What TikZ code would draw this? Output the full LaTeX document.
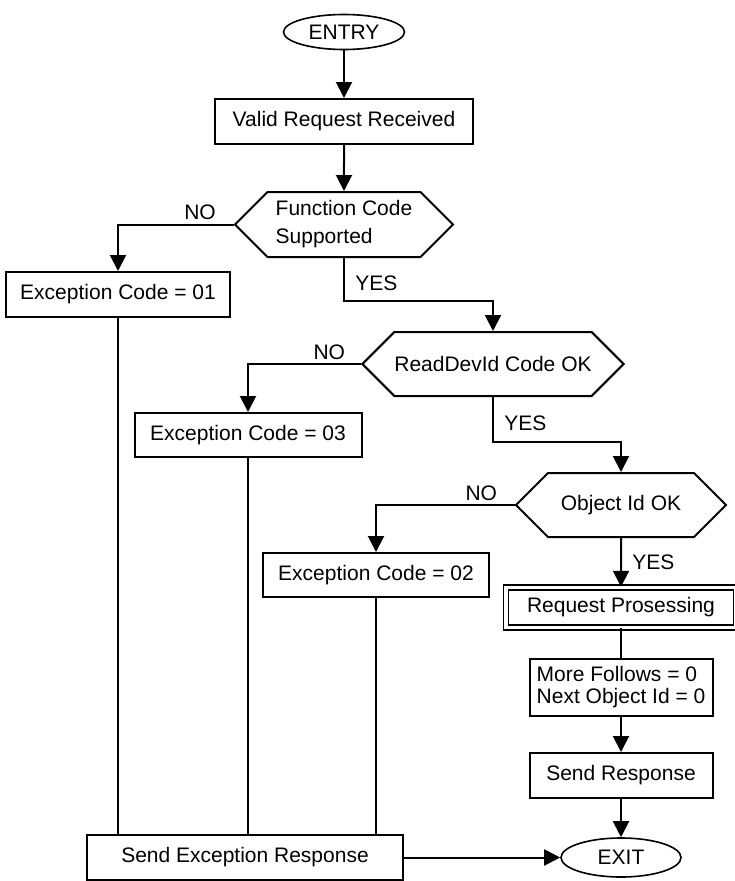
\documentclass[tikz,border=0pt]{standalone}
\usepackage{fontspec}
\setmainfont{Liberation Sans}
\usetikzlibrary{arrows.meta, shapes.geometric, shapes.symbols}

\begin{document}
\begin{tikzpicture}[x=1pt, y=-1pt,
        every node/.style={font=\fontsize{21}{22}\selectfont},
        procbox/.style={rectangle, draw, line width=2pt, inner sep=0pt},
        decide/.style={signal, signal to=west and east, signal pointer angle=90, draw, line width=2pt, inner sep=0pt},
        terminal/.style={ellipse, draw, line width=1.6pt, inner sep=0pt},
        flow/.style={line width=2pt},
        arr/.style={flow, -{Triangle[width=16pt,length=16pt]}}]
        \useasboundingbox (0,0) rectangle (735,881);

        \node[terminal, minimum width=121pt, minimum height=35pt] (entry) at (344,32) {ENTRY};
        \node[procbox, minimum width=258pt, minimum height=45pt] (valid) at (344,121.5) {Valid Request Received};
        \node[decide, minimum width=218pt, minimum height=65pt, align=left] (fc) at (344,224.5) {Function Code\\[6pt]Supported};
        \node[procbox, minimum width=224pt, minimum height=45pt] (ex01) at (118,294.5) {Exception Code = 01};
        \node[decide, minimum width=254pt, minimum height=64pt] (rd) at (493,364) {ReadDevId Code OK};
        \node[procbox, minimum width=227pt, minimum height=44pt] (ex03) at (248,435) {Exception Code = 03};
        \node[decide, minimum width=210pt, minimum height=64pt] (oi) at (621,505) {Object Id OK};
        \node[procbox, minimum width=226pt, minimum height=44pt] (ex02) at (376,575) {Exception Code = 02};
        \node[procbox, double, double distance=3.2pt, line width=1.5pt, minimum width=230pt, minimum height=40pt] (req) at (621,607.5) {Request Prosessing};
        \node[procbox, minimum width=183pt, minimum height=57pt, align=left] (more) at (621,687.5) {More Follows = 0\\Next Object Id = 0};
        \node[procbox, minimum width=183pt, minimum height=45pt] (sendr) at (621,775.5) {Send Response};
        \node[procbox, minimum width=316pt, minimum height=45pt] (sendex) at (245,857.5) {Send Exception Response};
        \node[terminal, minimum width=120pt, minimum height=39pt] (exit) at (621,857.5) {EXIT};

        \draw[arr] (entry) -- (valid);
        \draw[arr] (valid) -- (fc);
        \draw[arr] (fc.west) -- node[above, pos=0.29] {NO} (fc.west -| ex01) -- (ex01);
        \draw[arr] (fc.south) -- node[right=7pt, pos=0.58] {YES} ++(0,43) -| (rd);
        \draw[arr] (rd.west) -- node[above, pos=0.28] {NO} (rd.west -| ex03) -- (ex03);
        \draw[arr] (rd.south) -- node[right=7pt, pos=0.58] {YES} ++(0,45) -| (oi);
        \draw[arr] (oi.west) -- node[above, pos=0.24] {NO} (oi.west -| ex02) -- (ex02);
        \draw[arr] (oi) -- node[right=7pt] {YES} (req);
        \draw[flow] (req) -- (more);
        \draw[arr] (more) -- (sendr);
        \draw[arr] (sendr) -- (exit);
        \draw[flow] (ex01) -- (ex01 |- sendex.north);
        \draw[flow] (ex03) -- (ex03 |- sendex.north);
        \draw[flow] (ex02) -- (ex02 |- sendex.north);
        \draw[arr] (sendex) -- (exit);
\end{tikzpicture}
\end{document}
